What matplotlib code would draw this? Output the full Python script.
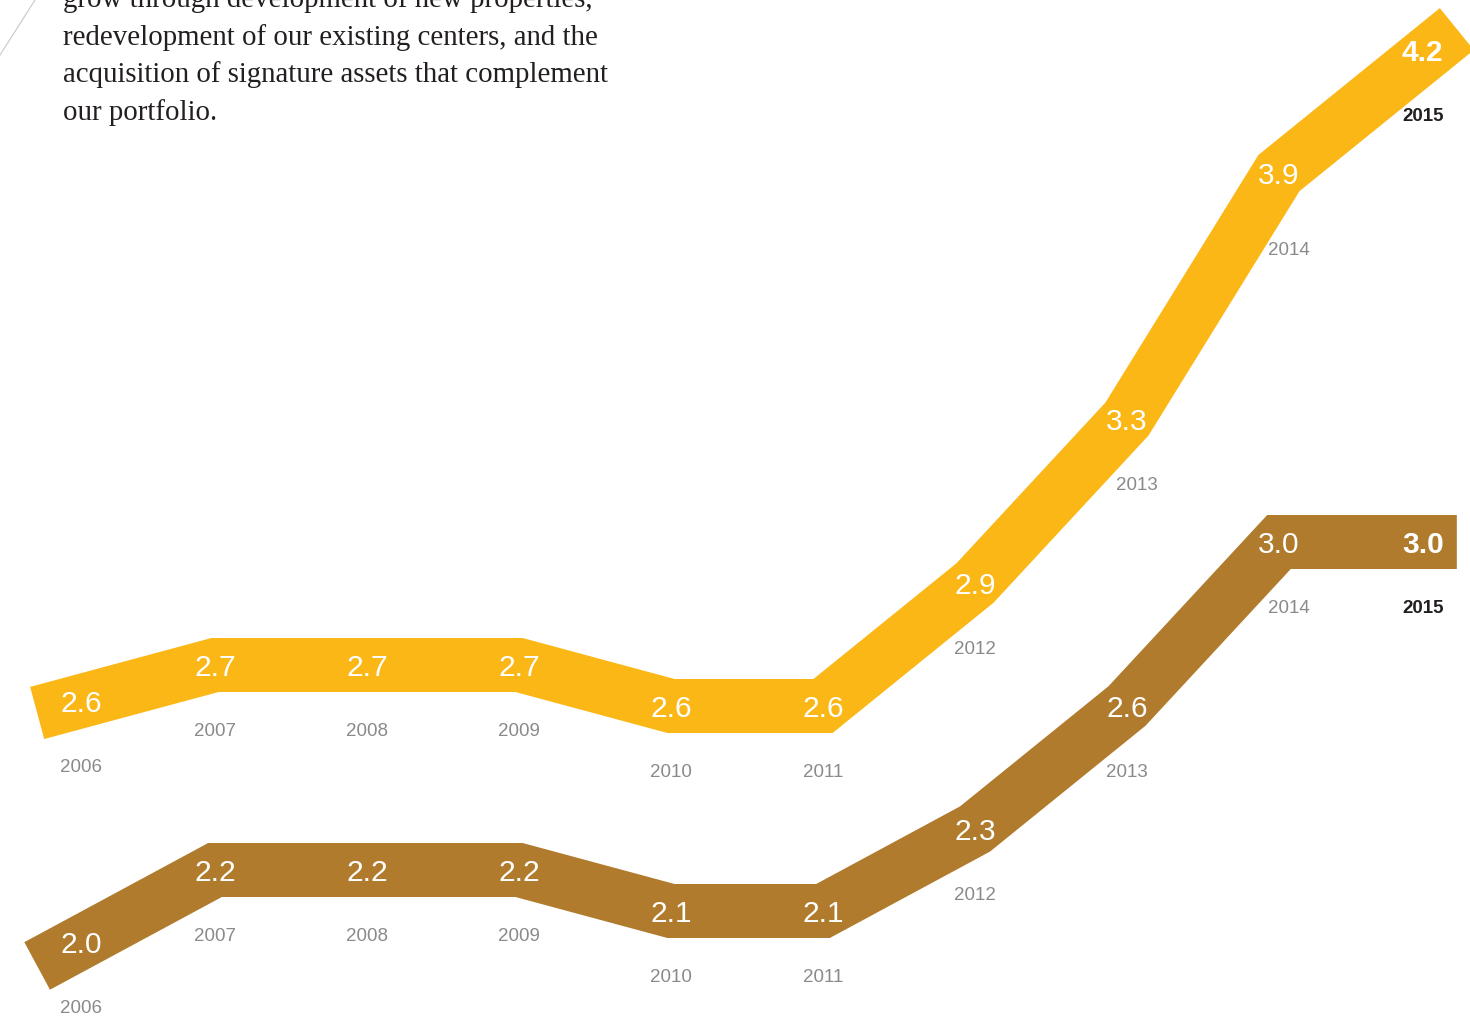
import matplotlib
matplotlib.use('Agg')
import matplotlib.pyplot as plt
import numpy as np

years = [2006, 2007, 2008, 2009, 2010, 2011, 2012, 2013, 2014, 2015]
upper_values = [2.6, 2.7, 2.7, 2.7, 2.6, 2.6, 2.9, 3.3, 3.9, 4.2]
lower_values = [2.0, 2.2, 2.2, 2.2, 2.1, 2.1, 2.3, 2.6, 3.0, 3.0]
intro_lines = [
    'grow through development of new properties,',
    'redevelopment of our existing centers, and the',
    'acquisition of signature assets that complement',
    'our portfolio.',
]

YELLOW = '#FBB716'
BROWN = '#B07B2C'
GREY = '#8a8a8c'
DARK = '#231f20'
SANS = 'Liberation Sans'


def extend(x, y, ext=0.17):
    # stretch the band a little past the first and last year
    x = np.asarray(x, float)
    y = np.asarray(y, float)
    s0 = (y[1] - y[0]) / (x[1] - x[0])
    s1 = (y[-1] - y[-2]) / (x[-1] - x[-2])
    xe = np.concatenate([[x[0] - ext], x, [x[-1] + ext]])
    ye = np.concatenate([[y[0] - s0 * ext], y, [y[-1] + s1 * ext]])
    return xe, ye


fig = plt.figure(figsize=(14.7, 10.25), dpi=100)
ax = fig.add_axes([0, 0, 1, 1])
ax.set_xlim(2006 - 63 / 152, 2015 + 39 / 152)
ax.set_ylim(2.6 - 319 / 410, 2.6 + 706 / 410)
ax.axis('off')

band_w = 54 * 72 / 100
for vals, col in [(upper_values, YELLOW), (lower_values, BROWN)]:
    xe, ye = extend(years, vals)
    ax.plot(xe, ye, color=col, lw=band_w, solid_joinstyle='miter',
            solid_capstyle='butt')

    for i, (yr, v) in enumerate(zip(years, vals)):
        last = i == len(years) - 1
        lx, ly = yr, v
        if i == 0:
            # first label sits a little inside the band, follow its slope
            shift = 0.12
            lx = yr + shift
            ly = v + (vals[1] - vals[0]) * shift
        dx = -6 if last else 0
        rise = v - vals[i - 1] if i > 0 else 0
        steep = rise > 0.35 and not last
        ax.annotate(f'{v:.1f}', (lx, ly), xytext=(dx, -2),
                    textcoords='offset points',
                    ha='center', va='center', color='white', fontsize=21.5,
                    family=SANS, fontweight='bold' if last else 'normal')
        ax.annotate(str(yr), (lx, ly),
                    xytext=(dx + (7 if steep else 0),
                            -48 - (8 if rise > 0.45 and not last else 0)),
                    textcoords='offset points',
                    ha='center', va='center', fontsize=13.5, family=SANS,
                    color=DARK if last else GREY,
                    fontweight='bold' if last else 'normal')

# intro paragraph, top-left (first line runs off the page)
for k, line in enumerate(intro_lines):
    fig.text(63 / 1470, 1 - (0 + 37.5 * k) / 1025, line, ha='left', va='center',
             fontsize=20.8, family='Liberation Serif', color=DARK)

fig.add_artist(plt.Line2D([0, 35 / 1470], [1 - 55 / 1025, 1], color='#c8c8c8', lw=0.8))

fig.savefig('out.png', dpi=100, facecolor='white')
